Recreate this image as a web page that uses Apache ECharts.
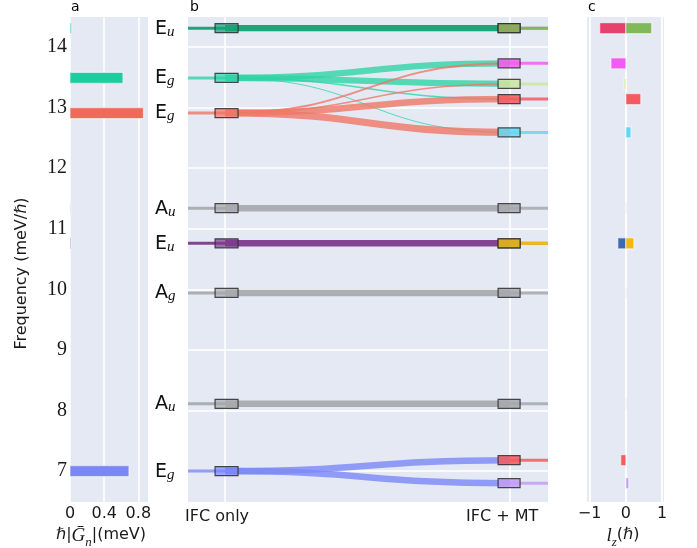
<!DOCTYPE html>
<html><head><meta charset="utf-8">
<script src="https://cdn.jsdelivr.net/npm/echarts@6/dist/echarts.min.js"></script>
<style>html,body{margin:0;padding:0;background:#fff}#c{width:697px;height:548px}</style>
</head><body><div id="c"></div>
<script>
// ---------- data ----------
const leftFreq   = [14.31, 13.49, 12.91, 11.34, 10.76, 9.94, 8.11, 7.00];
const leftLetter = ['E', 'E', 'E', 'A', 'E', 'A', 'A', 'E'];
const leftSub    = ['u', 'g', 'g', 'u', 'u', 'g', 'u', 'g'];
const gn         = [0.02, 0.62, 0.86, 0.01, 0.01, 0.0, 0.0, 0.69];
const rightFreq  = [14.31, 14.31, 13.73, 13.39, 13.14, 12.59, 11.34, 10.76, 10.76, 9.94, 8.11, 7.18, 6.80];
const lz         = [-0.72, 0.71, -0.41, -0.05, 0.41, 0.14, 0.01, -0.22, 0.22, 0.01, 0.01, -0.14, 0.08];
const flowSrc    = [0, 1, 1, 1, 1, 2, 2, 2, 2, 3, 4, 5, 6, 7, 7];
const flowDst    = [1, 2, 3, 4, 5, 2, 3, 4, 5, 6, 8, 9, 10, 11, 12];
const flowWeight = [0.95, 0.95, 0.95, 0.25, 0.15, 0.3, 0.22, 1.0, 1.1, 1.0, 1.0, 1.0, 1.0, 1.0, 1.0];
const xCategories = ['IFC only', 'IFC + MT'];
const freqTicks  = [7, 8, 9, 10, 11, 12, 13, 14];
const gnTicks    = [0, 0.4, 0.8];
const lzTicks    = [-1, 0, 1];

// ---------- styles ----------
const BG = '#e5e9f4';
const leftColors  = ['#17a077','#2fd3a6','#f07565','#a6a8ad','#7e3b8e','#a6a8ad','#a6a8ad','#7b87f6'];
const leftAlpha   = [0.97, 0.8, 0.8, 0.92, 0.95, 0.92, 0.92, 0.8];
const rightColors = ['#e6406f','#80b85a','#f25cf2','#cbe7a3','#f45a5e','#64d8f3','#a6a8ad','#3a6bb4','#f3b70d','#a6a8ad','#a6a8ad','#f45a5e','#c39df5'];
const rightAlpha  = [0.5, 1, 0.85, 0.85, 0.85, 0.85, 0.85, 0.5, 1, 0.85, 0.85, 0.85, 0.85];
const gnColors    = ['#6bd8c6','#20cc9f','#ef6a5a','#c8cad0','#9d72b0','#c8cad0','#c8cad0','#7b86f7'];
function rgba(hex, a){const n=parseInt(hex.slice(1),16);return `rgba(${n>>16&255},${n>>8&255},${n&255},${a})`;}
const SANS = 'DejaVu Sans', SERIF = 'Liberation Serif';

const chart = echarts.init(document.getElementById('c'), null, {renderer:'canvas'});

const isTick = (v, list) => list.some(t => Math.abs(t - v) < 1e-6);
const yAxisOf = (gi, labels, split) => ({
  type: 'value', gridIndex: gi, min: 6.49, max: 14.495, splitNumber: 8,
  axisLine: {show: false}, axisTick: {show: false},
  axisLabel: {show: labels, margin: 3, fontFamily: SERIF, fontSize: 20, color: '#1a1a1a', padding: [4, 0, 0, 0],
    formatter: v => isTick(v, freqTicks) ? String(Math.round(v)) : ''},
  splitLine: {show: split, showMinLine: false, showMaxLine: false, lineStyle: {color: '#fff', width: 1.5}}
});

const barRender = (colors) => (params, api) => {
  const v = api.value(0), f = api.value(1), i = api.value(2);
  const p0 = api.coord([0, f]), p1 = api.coord([v, f]);
  const h = 11;
  return {type: 'rect', shape: {x: Math.min(p0[0], p1[0]), y: p0[1] - h / 2, width: Math.abs(p1[0] - p0[0]), height: h},
    style: {fill: colors[i], stroke: 'rgba(255,255,255,0.55)', lineWidth: 1.2}};
};

const gridBase = {top: 17, height: 485, show: true, backgroundColor: BG, borderWidth: 0, containLabel: false, outerBoundsMode: 'none'};

const option = {
  animation: false,
  backgroundColor: '#fff',
  title: [
    {text: 'a', left: 71, top: 0, padding: 0, textStyle: {fontFamily: SANS, fontSize: 14, fontWeight: 'normal', color: '#000'}},
    {text: 'b', left: 190, top: 0, padding: 0, textStyle: {fontFamily: SANS, fontSize: 14, fontWeight: 'normal', color: '#000'}},
    {text: 'c', left: 588, top: 0, padding: 0, textStyle: {fontFamily: SANS, fontSize: 14, fontWeight: 'normal', color: '#000'}}
  ],
  grid: [
    Object.assign({left: 70, width: 78}, gridBase),
    Object.assign({left: 188, width: 360}, gridBase),
    Object.assign({left: 587, width: 77}, gridBase)
  ],
  xAxis: [
    {type: 'value', gridIndex: 0, min: 0, max: 0.913, interval: 0.4,
      axisLine: {show: false}, axisTick: {show: false},
      axisLabel: {margin: 4, fontFamily: SANS, fontSize: 16, color: '#1a1a1a',
        formatter: v => isTick(v, gnTicks) ? String(Math.round(v * 10) / 10) : ''},
      splitLine: {show: true, showMaxLine: false, lineStyle: {color: '#fff', width: 1.5}},
      name: '{h|ℏ|}{g|Ḡ}{n|n}{h||(meV)}', nameLocation: 'middle', nameGap: 20,
      nameTextStyle: {padding: [0, 16, 0, 0], rich: {
        h: {fontFamily: SANS, fontSize: 16, color: '#1a1a1a', lineHeight: 22, verticalAlign: 'top'},
        g: {fontFamily: SERIF, fontStyle: 'italic', fontSize: 19, color: '#1a1a1a', lineHeight: 22, verticalAlign: 'top'},
        n: {fontFamily: SERIF, fontStyle: 'italic', fontSize: 13, color: '#1a1a1a', lineHeight: 14, verticalAlign: 'bottom'}
      }}},
    {type: 'value', gridIndex: 1, min: -0.13, max: 1.133, splitNumber: 1,
      axisLine: {show: false}, axisTick: {show: false},
      axisLabel: {margin: 7, fontFamily: SANS, fontSize: 16, color: '#1a1a1a', padding: [0, 16, 0, 0],
        formatter: v => isTick(v, [0]) ? xCategories[0] : (isTick(v, [1]) ? xCategories[1] : '')},
      splitLine: {show: true, showMinLine: false, showMaxLine: false, lineStyle: {color: '#fff', width: 1.5}}},
    {type: 'value', gridIndex: 2, min: -1.07, max: 1.05, splitNumber: 2,
      axisLine: {show: false}, axisTick: {show: false},
      axisLabel: {margin: 4, fontFamily: SANS, fontSize: 16, color: '#1a1a1a',
        formatter: v => isTick(v, lzTicks) ? (v < 0 ? '\u2212' + Math.round(-v) : String(Math.round(v))) : ''},
      splitLine: {show: true, showMinLine: false, showMaxLine: false, lineStyle: {color: '#fff', width: 1.8}},
      name: '{l|l}{z|z}{h|(ℏ)}', nameLocation: 'middle', nameGap: 20,
      nameTextStyle: {padding: [0, 5, 0, 0], rich: {
        l: {fontFamily: SERIF, fontStyle: 'italic', fontSize: 19, color: '#1a1a1a', lineHeight: 22, verticalAlign: 'top'},
        z: {fontFamily: SERIF, fontStyle: 'italic', fontSize: 13, color: '#1a1a1a', lineHeight: 14, verticalAlign: 'bottom'},
        h: {fontFamily: SANS, fontSize: 16, color: '#1a1a1a', lineHeight: 22, verticalAlign: 'top'}
      }}}
  ],
  yAxis: [
    Object.assign(yAxisOf(0, true, false), {name: 'Frequency (meV/ℏ)', nameLocation: 'middle', nameRotate: 90, nameGap: 40,
      nameTextStyle: {fontFamily: SANS, fontSize: 16, color: '#1a1a1a', padding: [0, 28, 0, 0]}}),
    yAxisOf(1, false, true),
    yAxisOf(2, false, false)
  ],
  series: [
    // panel a bars
    {type: 'custom', xAxisIndex: 0, yAxisIndex: 0, silent: true,
      data: gn.map((v, i) => [v, leftFreq[i], i]), renderItem: barRender(gnColors)},
    // panel b flows
    {type: 'custom', xAxisIndex: 1, yAxisIndex: 1, silent: true,
      data: flowSrc.map((s, i) => [leftFreq[s], rightFreq[flowDst[i]], flowWeight[i], s]),
      renderItem: (params, api) => {
        const p0 = api.coord([0, api.value(0)]), p1 = api.coord([1, api.value(1)]);
        const mx = (p0[0] + p1[0]) / 2;
        const s = api.value(3);
        return {type: 'bezierCurve',
          shape: {x1: p0[0], y1: p0[1], x2: p1[0], y2: p1[1], cpx1: mx, cpy1: p0[1], cpx2: mx, cpy2: p1[1]},
          style: {stroke: rgba(leftColors[s], leftAlpha[s]), fill: 'none', lineWidth: api.value(2) * 6.5}};
      }},
    // left stubs
    {type: 'custom', xAxisIndex: 1, yAxisIndex: 1, silent: true,
      data: leftFreq.map((f, i) => [0, f, i]),
      renderItem: (params, api) => {
        const p = api.coord([0, api.value(1)]);
        const i = api.value(2);
        return {type: 'line', shape: {x1: params.coordSys.x, y1: p[1], x2: p[0], y2: p[1]},
          style: {stroke: rgba(leftColors[i], leftAlpha[i]), lineWidth: 3}};
      }},
    // right stubs
    {type: 'custom', xAxisIndex: 1, yAxisIndex: 1, silent: true,
      data: rightFreq.map((f, i) => [1, f, i]),
      renderItem: (params, api) => {
        const p = api.coord([1, api.value(1)]);
        const i = api.value(2);
        return {type: 'line', shape: {x1: p[0], y1: p[1], x2: params.coordSys.x + params.coordSys.width, y2: p[1]},
          style: {stroke: rgba(rightColors[i], rightAlpha[i]), lineWidth: 3}};
      }},
    // left boxes
    {type: 'custom', xAxisIndex: 1, yAxisIndex: 1, silent: true,
      data: leftFreq.map((f, i) => [0, f, i]),
      renderItem: (params, api) => {
        const p = api.coord([0, api.value(1)]);
        return {type: 'rect', shape: {x: p[0] - 10, y: p[1] - 4.5, width: 23, height: 9},
          style: {fill: rgba(leftColors[api.value(2)], 0.7), stroke: 'rgba(45,45,45,0.85)', lineWidth: 1.2}};
      }},
    // right boxes
    {type: 'custom', xAxisIndex: 1, yAxisIndex: 1, silent: true,
      data: rightFreq.map((f, i) => [1, f, i]),
      renderItem: (params, api) => {
        const p = api.coord([1, api.value(1)]);
        return {type: 'rect', shape: {x: p[0] - 12, y: p[1] - 4.5, width: 22, height: 9},
          style: {fill: rgba(rightColors[api.value(2)], 0.85), stroke: 'rgba(45,45,45,0.85)', lineWidth: 1.2}};
      }},
    // mode labels
    {type: 'custom', xAxisIndex: 1, yAxisIndex: 1, silent: true,
      data: leftFreq.map((f, i) => [0, f, i]),
      renderItem: (params, api) => {
        const i = api.value(2);
        const p = api.coord([0, api.value(1)]);
        return {type: 'text', style: {
          x: params.coordSys.x - 33, y: p[1] + 1, align: 'left', verticalAlign: 'middle',
          text: '{m|' + leftLetter[i] + '}{s|' + leftSub[i] + '}',
          rich: {
            m: {fontFamily: SANS, fontSize: 19, fill: '#111', lineHeight: 20, verticalAlign: 'top'},
            s: {fontFamily: SERIF, fontStyle: 'italic', fontSize: 15, fill: '#111', lineHeight: 14, verticalAlign: 'bottom'}
          }}};
      }},
    // panel c bars
    {type: 'custom', xAxisIndex: 2, yAxisIndex: 2, silent: true,
      data: lz.map((v, i) => [v, rightFreq[i], i]), renderItem: barRender(rightColors)}
  ]
};
chart.setOption(option);
</script>
</body></html>
